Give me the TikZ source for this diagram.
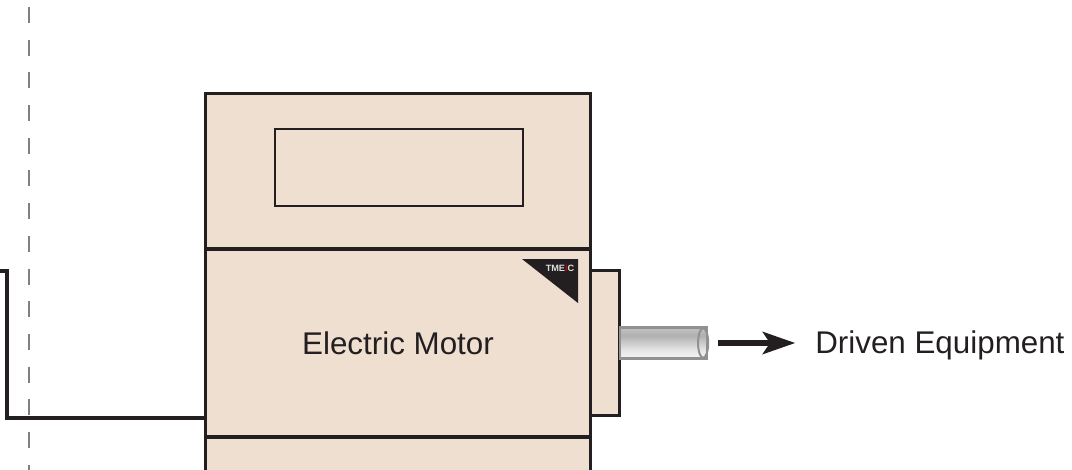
\documentclass[tikz,border=0pt]{standalone}
\usepackage{fontspec}
\setmainfont{Liberation Sans}
\usepackage[]{xcolor}
\usetikzlibrary{positioning,shapes.geometric,arrows.meta}

\definecolor{motorfill}{RGB}{239,223,208}
\definecolor{motorline}{RGB}{35,31,32}
\definecolor{shaftline}{RGB}{145,145,145}
\pgfdeclareverticalshading{shaftshade}{100bp}{color(0bp)=(gray!30); color(22bp)=(gray!4); color(40bp)=(gray!22); color(62bp)=(gray!62); color(86bp)=(gray!35); color(100bp)=(gray!25)}

\begin{document}
\begin{tikzpicture}[
            x=0.025cm, y=-0.025cm,
            section/.style={rectangle, draw=motorline, fill=motorfill, line width=2.2pt, inner sep=0pt, outer sep=0pt, minimum width=9.6cm},
            panel/.style={rectangle, draw=motorline, line width=1.9pt, inner sep=0pt, minimum width=6.2cm, minimum height=1.925cm},
            shaftbox/.style={cylinder, shape aspect=0.35, draw=shaftline, line width=1.5pt, preaction={shade, shading=shaftshade}, inner sep=0pt, minimum width=0.775cm, minimum height=2.175cm},
            caption/.style={font=\fontsize{22.3}{26}\selectfont, text=motorline},
            wire/.style={draw=motorline, line width=2.4pt},
            drive/.style={-{Stealth[length=23pt, width=15.6pt, inset=5pt]}, draw=motorline, line width=4.25pt},
            boundary/.style={draw=gray, line width=0.9pt, dash pattern=on 0.4cm off 0.417cm}
        ]
            \useasboundingbox (0,0) rectangle (1072,469);

            % motor body
            \node[section, minimum height=4.7cm, caption] (motor) at (398,343) {Electric Motor};
            \node[section, minimum height=3.875cm, above=0pt of motor] (hood) {};
            \node[section, minimum height=1cm, below=0pt of motor] (base) {};
            \node[panel] (display) at (399,167.5) {};
            \node[section, minimum width=0.725cm, minimum height=3.625cm, right=0pt of motor] (flange) {};
            \node[shaftbox, right=0pt of flange] (shaft) {};
            \draw[shaftline, line width=1.4pt] ([xshift=-3.6pt]shaft.east) ellipse (3.6pt and 0.37cm);

            % logo badge
            \fill[motorline] (522,259) -- (578,259) -- (578,303) -- cycle;
            \node[font=\fontsize{6.5}{7}\selectfont\bfseries, inner sep=0pt] (badge) at (560,268)
                {\textcolor{gray!25}{TME}\textcolor{red!80!black}{I}\textcolor{gray!25}{C}};

            \node[caption, anchor=base west, inner sep=0pt] (equip) at (815,353) {Driven Equipment};

            \draw[boundary] (29,7) -- (29,480);

            \coordinate (feed) at (0,271);
            \draw[wire] (feed) -- ++(7,0) |- ([yshift=13.5pt]motor.south west);
            \draw[drive, shorten <=7pt, shorten >=14pt] (shaft.east) -- (shaft.east -| equip.west);
        \end{tikzpicture}
\end{document}
